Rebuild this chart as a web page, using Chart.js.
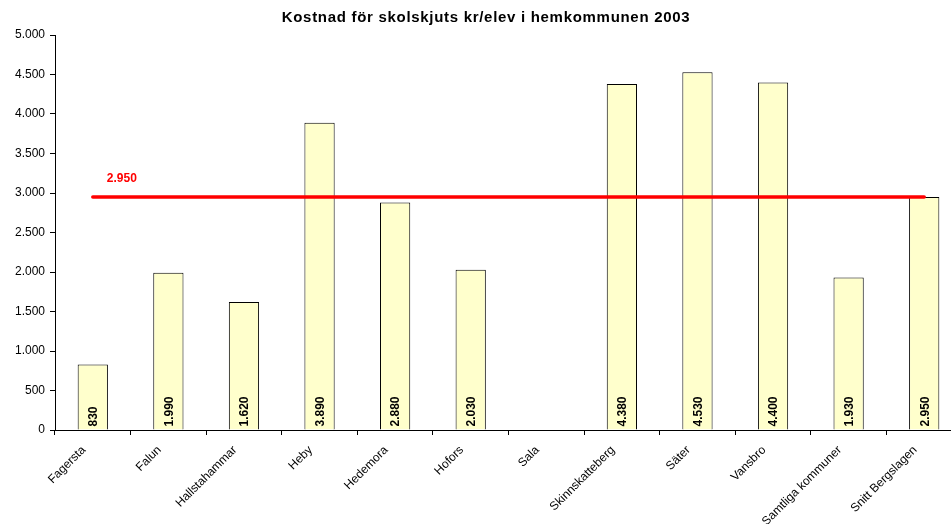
<!DOCTYPE html>
<html><head><meta charset="utf-8">
<script src="https://cdn.jsdelivr.net/npm/chart.js@4/dist/chart.umd.min.js"></script>
<style>html,body{margin:0;padding:0;overflow:hidden;background:#fff}#wrap{width:962px;height:524px;position:relative}</style>
</head><body><div id="wrap"><canvas id="c"></canvas></div>
<script>
const categories = ["Fagersta","Falun","Hallstahammar","Heby","Hedemora","Hofors","Sala","Skinnskatteberg","Säter","Vansbro","Samtliga kommuner","Snitt Bergslagen"];
const costs = [830,1990,1620,3890,2880,2030,null,4380,4530,4400,1930,2950];
const averageLine = [2950,2950,2950,2950,2950,2950,2950,2950,2950,2950,2950,2950];
const averageLabel = "2.950";
const titleText = "Kostnad för skolskjuts kr/elev i hemkommunen 2003";

const fmt = v => String(v).replace(/\B(?=(\d{3})+(?!\d))/g, ".");
const FONT = "'Liberation Sans', Arial, sans-serif";

const labelPlugin = {
  id: 'labels',
  afterDatasetsDraw(chart) {
    const ctx = chart.ctx;
    const meta = chart.getDatasetMeta(1);
    ctx.save();
    ctx.font = "bold 12px " + FONT;
    ctx.fillStyle = "#000";
    ctx.textAlign = "left";
    ctx.textBaseline = "middle";
    meta.data.forEach((bar, i) => {
      const v = costs[i];
      if (v == null) return;
      ctx.save();
      ctx.translate(bar.x, bar.base - 3);
      ctx.rotate(-Math.PI / 2);
      ctx.fillText(fmt(v), 0, 1);
      ctx.restore();
    });
    const lm = chart.getDatasetMeta(0);
    const p = lm.data[0];
    ctx.fillStyle = "#ff0000";
    ctx.fillText(averageLabel, p.x + 14, p.y - 18);
    ctx.restore();
  },
  afterDraw(chart) {
    const ctx = chart.ctx;
    ctx.save();
    ctx.font = "bold 15px " + FONT;
    ctx.letterSpacing = "0.7px";
    ctx.fillStyle = "#000";
    ctx.textAlign = "center";
    ctx.textBaseline = "middle";
    ctx.fillText(titleText, 486, 18);
    ctx.restore();
  }
};

new Chart(document.getElementById('c'), {
  data: {
    labels: categories,
    datasets: [
      { type: 'line', data: averageLine, borderColor: '#ff0000', borderWidth: 3.5, pointRadius: 0, fill: false, order: 0, borderCapStyle: 'round' },
      { type: 'bar', data: costs, backgroundColor: '#ffffcc', borderColor: '#000', borderWidth: 1, barPercentage: 0.4, categoryPercentage: 1, order: 1 }
    ]
  },
  options: {
    responsive: true, maintainAspectRatio: false, animation: false,
    layout: { padding: { left: 0, right: 0, top: 35, bottom: 0 } },
    plugins: {
      legend: { display: false }, tooltip: { enabled: false },
      title: { display: false }
    },
    scales: {
      x: {
        offset: true,
        grid: { display: true, offset: true, drawOnChartArea: false, drawTicks: true, tickLength: 5, color: '#000' },
        border: { display: true, color: '#000', width: 1 },
        ticks: { color: '#000', font: { family: FONT, size: 12 }, maxRotation: 45, minRotation: 45, autoSkip: false, padding: 8, labelOffset: -9 },
        afterFit: s => { s.height = 94; }
      },
      y: {
        min: 0, max: 5000,
        grid: { display: true, drawOnChartArea: false, drawTicks: true, tickLength: 5, color: '#000' },
        border: { display: true, color: '#000', width: 1 },
        ticks: { stepSize: 500, color: '#000', font: { family: FONT, size: 12 }, padding: 5, callback: v => fmt(v) },
        afterFit: s => { s.width = 55; }
      }
    }
  },
  plugins: [labelPlugin]
});
</script></body></html>
